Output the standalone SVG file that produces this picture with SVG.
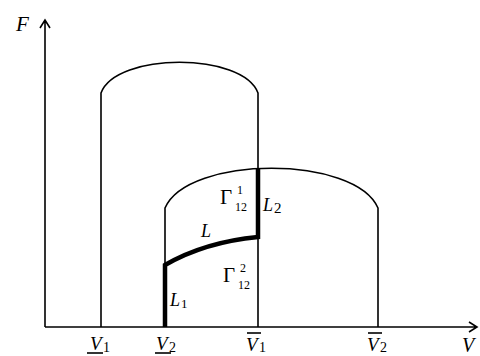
<svg xmlns="http://www.w3.org/2000/svg" width="480" height="356" viewBox="0 0 480 356">
<style>
.thin{fill:none;stroke:#000;stroke-width:1.6}
.thick{fill:none;stroke:#000;stroke-width:4.5}
.it{font-family:"Liberation Serif",serif;font-style:italic;fill:#000}
.rm{font-family:"Liberation Serif",serif;fill:#000}
</style>
<rect width="480" height="356" fill="#fff"/>
<g id="axes">
<path class="thin" d="M45,327 V20 M40,28 L45,20 L50,28"/>
<path class="thin" d="M45,327 H477 M469,322 L477,327 L469,332"/>
<text class="it" x="16" y="31" font-size="21">F</text>
<text class="it" x="462" y="352" font-size="20">V</text>
</g>
<g id="region1">
<path class="thin" d="M101,327 V93 C116,52 243,52 258,93 V327"/>
</g>
<g id="region2">
<path class="thin" d="M165,268 V208 C188,155 355,155 378,208 V327"/>
</g>
<g id="connectors">
<path class="thick" d="M258,169 V237 Q205,242 165,265 V327"/>
</g>
<g id="labels">
<text class="rm" x="220" y="204" font-size="21">Γ</text>
<text class="rm" x="237" y="194" font-size="12">1</text>
<text class="rm" x="235" y="211" font-size="12">12</text>
<text class="rm" x="223" y="282" font-size="21">Γ</text>
<text class="rm" x="240" y="272" font-size="12">2</text>
<text class="rm" x="238" y="289" font-size="12">12</text>
<text class="it" x="201" y="237" font-size="18">L</text>
<text class="it" x="263" y="211" font-size="18">L</text>
<text class="rm" x="274" y="213" font-size="15">2</text>
<text class="it" x="170" y="306" font-size="18">L</text>
<text class="rm" x="181" y="308" font-size="13">1</text>
<text class="it" x="90" y="350" font-size="19">V</text>
<text class="rm" x="103" y="352" font-size="14">1</text>
<path class="thin" d="M87,353 H103"/>
<text class="it" x="156" y="350" font-size="19">V</text>
<text class="rm" x="169" y="352" font-size="14">2</text>
<path class="thin" d="M155,353 H171"/>
<text class="it" x="246" y="351" font-size="19">V</text>
<text class="rm" x="259" y="352" font-size="14">1</text>
<path class="thin" d="M247,333 H261"/>
<text class="it" x="367" y="351" font-size="19">V</text>
<text class="rm" x="380" y="352" font-size="14">2</text>
<path class="thin" d="M368,333 H382"/>
</g>
</svg>
